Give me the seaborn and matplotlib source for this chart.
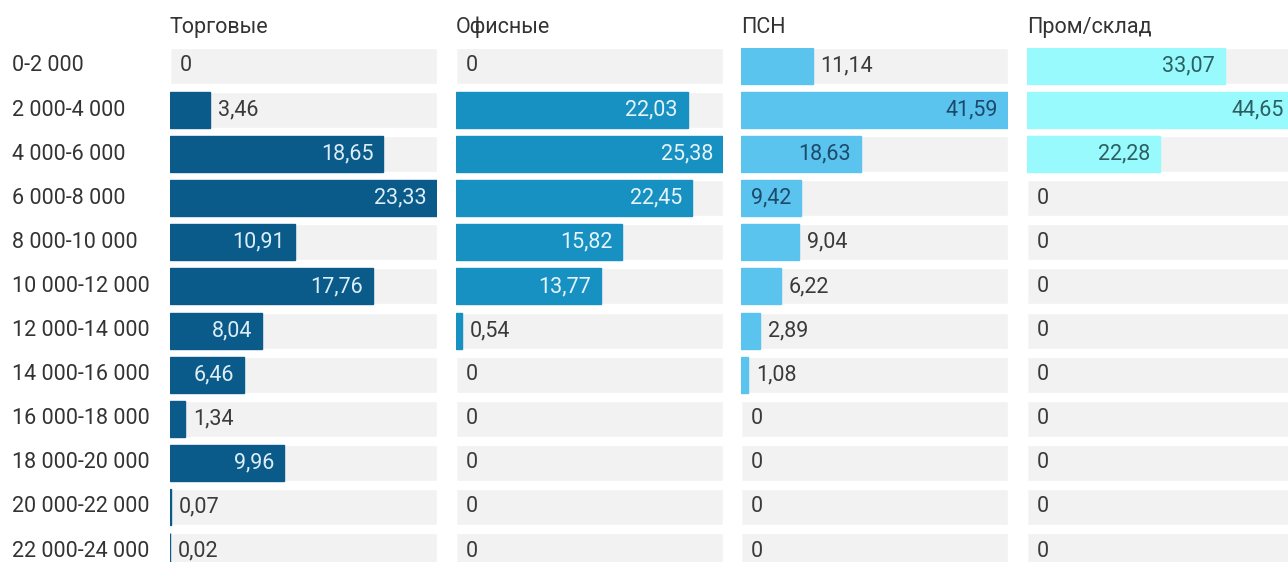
import matplotlib
matplotlib.use("Agg")
import matplotlib.pyplot as plt
import seaborn as sns
import pandas as pd

sns.set_theme(style="white")
plt.rcParams['font.family'] = ['Roboto', 'DejaVu Sans']

categories = ["0-2 000", "2 000-4 000", "4 000-6 000", "6 000-8 000", "8 000-10 000",
              "10 000-12 000", "12 000-14 000", "14 000-16 000", "16 000-18 000",
              "18 000-20 000", "20 000-22 000", "22 000-24 000"]
titles = ["Торговые", "Офисные", "ПСН", "Пром/склад"]

torg = [0, 3.46, 18.65, 23.33, 10.91, 17.76, 8.04, 6.46, 1.34, 9.96, 0.07, 0.02]
ofis = [0, 22.03, 25.38, 22.45, 15.82, 13.77, 0.54, 0, 0, 0, 0, 0]
psn = [11.14, 41.59, 18.63, 9.42, 9.04, 6.22, 2.89, 1.08, 0, 0, 0, 0]
prom = [33.07, 44.65, 22.28, 0, 0, 0, 0, 0, 0, 0, 0, 0]
series = [torg, ofis, psn, prom]

# label placement inside the bar (True) or after it (False)
inside_torg = [False, False, True, True, True, True, True, True, False, True, False, False]
inside_ofis = [False, True, True, True, True, True, False, False, False, False, False, False]
inside_psn = [False, True, True, True, False, False, False, False, False, False, False, False]
inside_prom = [True, True, True, False, False, False, False, False, False, False, False, False]
insides = [inside_torg, inside_ofis, inside_psn, inside_prom]

colors = ["#0b5b8a", "#1791c1", "#5ac4ee", "#98fafc"]
inside_text = ["#dceef8", "#e6f4fa", "#1d4a6a", "#2a6062"]
outside_text = "#3a3a3a"
bg_gray = "#f2f2f2"

W, H = 1288, 562
fig = plt.figure(figsize=(W / 100, H / 100), dpi=100)
fig.patch.set_facecolor("white")

panel_left = [170, 456, 741, 1027]
panel_w = 267
top_px, bot_px = 48, 569
fs = 15.5

for i, (vals, title) in enumerate(zip(series, titles)):
    ax = fig.add_axes([panel_left[i] / W, 1 - bot_px / H, panel_w / W, (bot_px - top_px) / H])
    vmax = max(vals)
    df = pd.DataFrame({"cat": categories, "val": vals, "bg": [vmax] * len(vals)})
    sns.barplot(data=df, y="cat", x="bg", color=bg_gray, width=0.816, ax=ax,
                saturation=1, orient="h")
    n_bg = len(ax.patches)
    sns.barplot(data=df, y="cat", x="val", color=colors[i], width=0.816, ax=ax,
                saturation=1, orient="h")
    for p in ax.patches[n_bg:]:
        if p.get_width() > 0:
            p.set_edgecolor(colors[i])
            p.set_linewidth(1.0)
    ax.set_xlim(0, vmax)
    ax.set_ylim(len(categories) - 1 + 0.408, -0.408)
    ax.axis("off")
    px = vmax / panel_w
    for j, v in enumerate(vals):
        lab = ("%.2f" % v).replace(".", ",") if v != 0 else "0"
        if insides[i][j]:
            ax.text(v - 10 * px, j, lab, ha="right", va="center", fontsize=fs,
                    color=inside_text[i])
        else:
            off = 10 if v == 0 else 8
            ax.text(v + off * px, j, lab, ha="left", va="center", fontsize=fs,
                    color=outside_text)
    ax.text(0, -0.408 - 0.47, title, ha="left", va="center", fontsize=fs,
            color="#333333", clip_on=False)
    if i == 0:
        for j, c in enumerate(categories):
            ax.text(-(170 - 12) * px, j, c, ha="left", va="center",
                    fontsize=fs, color="#333333", clip_on=False)

fig.savefig("out.png", dpi=100, facecolor="white")
